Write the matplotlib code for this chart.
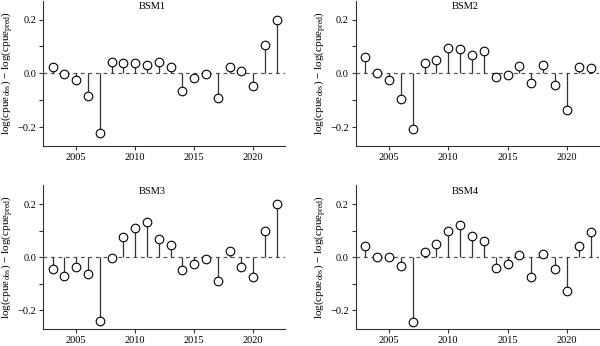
import matplotlib
matplotlib.use('Agg')
import matplotlib.pyplot as plt
from matplotlib.ticker import MultipleLocator

years = list(range(2003, 2023))
panel_titles = ['BSM1', 'BSM2', 'BSM3', 'BSM4']

bsm1 = [0.025, -0.003, -0.025, -0.086, -0.222, 0.042, 0.039, 0.037, 0.031, 0.042,
        0.022, -0.065, -0.018, -0.004, -0.093, 0.025, 0.009, -0.048, 0.104, 0.200]
bsm2 = [0.060, 0.000, -0.024, -0.094, -0.206, 0.039, 0.051, 0.095, 0.090, 0.070,
        0.083, -0.015, -0.006, 0.029, -0.036, 0.030, -0.045, -0.136, 0.025, 0.019]
bsm3 = [-0.044, -0.070, -0.035, -0.062, -0.241, -0.004, 0.078, 0.109, 0.132, 0.067,
        0.047, -0.048, -0.025, -0.005, -0.088, 0.025, -0.036, -0.075, 0.098, 0.199]
bsm4 = [0.041, 0.002, 0.000, -0.034, -0.245, 0.021, 0.049, 0.100, 0.122, 0.079,
        0.060, -0.039, -0.027, 0.010, -0.074, 0.013, -0.046, -0.127, 0.041, 0.096]

plt.rcParams['font.family'] = ['Liberation Serif', 'DejaVu Serif']
plt.rcParams['mathtext.fontset'] = 'custom'
plt.rcParams['mathtext.rm'] = 'Liberation Serif'
plt.rcParams['font.size'] = 7.5

fig = plt.figure(figsize=(6.0, 3.46), dpi=100)
boxes = [(0.072, 0.578, 0.403, 0.42), (0.593, 0.578, 0.405, 0.42),
         (0.072, 0.049, 0.403, 0.415), (0.593, 0.049, 0.405, 0.415)]

ylab = 'log(cpue$_{\\rm obs}$) \u2212 log(cpue$_{\\rm pred}$)'

for box, title, vals in zip(boxes, panel_titles, [bsm1, bsm2, bsm3, bsm4]):
    ax = fig.add_axes(box)
    ax.axhline(0, color='#555555', lw=0.9, ls=(0, (3, 3)), zorder=1)
    ax.vlines(years, 0, vals, color='#333333', lw=0.9, zorder=2)
    ax.plot(years, vals, 'o', ms=6.2, mfc='white', mec='black', mew=0.8, zorder=3)
    ax.set_xlim(2002.2, 2022.7)
    ax.set_ylim(-0.27, 0.27)
    ax.set_xticks([2005, 2010, 2015, 2020])
    ax.set_yticks([-0.2, 0.0, 0.2])
    ax.set_yticklabels(['\u22120.2', '0.0', '0.2'])
    ax.yaxis.set_minor_locator(MultipleLocator(0.1))
    ax.tick_params(which='both', direction='out', length=3, width=0.8, color='#333333', pad=2)
    for s in ['top', 'right']:
        ax.spines[s].set_visible(False)
    for s in ['left', 'bottom']:
        ax.spines[s].set_color('#333333')
        ax.spines[s].set_linewidth(0.8)
    ax.set_ylabel(ylab, fontsize=8, labelpad=1)
    ax.text(0.45, 0.99, title, transform=ax.transAxes, ha='center', va='top', fontsize=7.5)

fig.savefig('out.png', dpi=100)
